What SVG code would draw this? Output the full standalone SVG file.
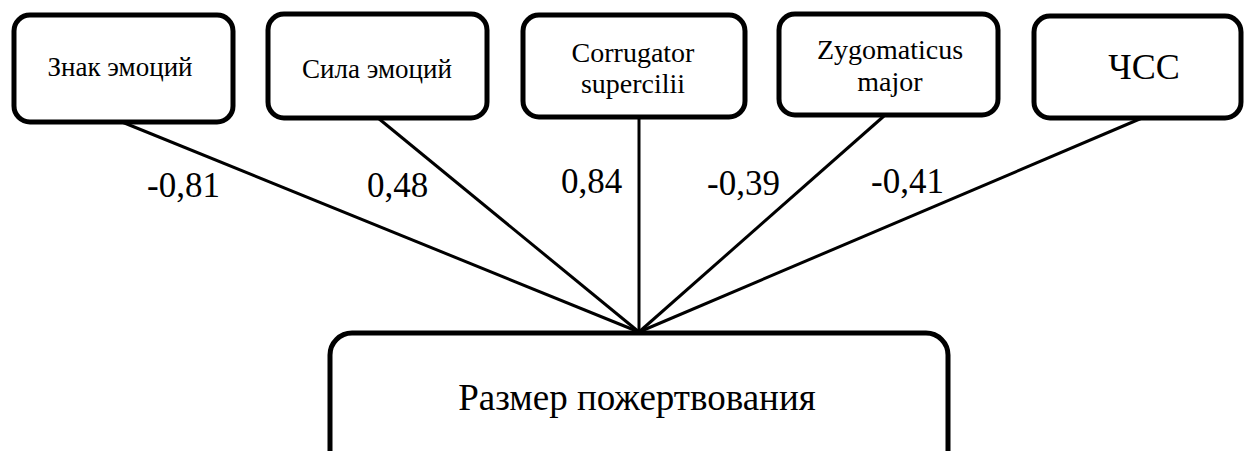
<svg xmlns="http://www.w3.org/2000/svg" width="1244" height="451" viewBox="0 0 1244 451">
<style>
.box{fill:#fff;stroke:#000;stroke-width:5}
.c{stroke:#000;stroke-width:3;fill:none}
.t{font-family:"Liberation Serif","Times New Roman",serif;fill:#000;text-anchor:middle}
.lbl{font-family:"Liberation Serif","Times New Roman",serif;fill:#000;font-size:35px}
</style>
<rect width="1244" height="451" fill="#fff"/>
<g id="connectors">
<line class="c" x1="122" y1="122" x2="639" y2="332"/>
<line class="c" x1="378" y1="118" x2="639" y2="332"/>
<line class="c" x1="639" y1="117" x2="639" y2="332"/>
<line class="c" x1="884" y1="116" x2="639" y2="332"/>
<line class="c" x1="1142" y1="118" x2="639" y2="332"/>
</g>
<g id="labels">
<text class="lbl" x="147" y="197">-0,81</text>
<text class="lbl" x="367" y="197">0,48</text>
<text class="lbl" x="561" y="193">0,84</text>
<text class="lbl" x="707" y="195">-0,39</text>
<text class="lbl" x="871" y="193">-0,41</text>
</g>
<g id="n1"><rect class="box" x="14" y="15" width="219" height="107" rx="16"/><text class="t" font-size="27" x="120" y="76">Знак эмоций</text></g>
<g id="n2"><rect class="box" x="268" y="14" width="219" height="104" rx="16"/><text class="t" font-size="27" x="377" y="78">Сила эмоций</text></g>
<g id="n3"><rect class="box" x="523" y="15" width="222" height="102" rx="16"/><text class="t" font-size="28" x="633" y="62">Corrugator</text><text class="t" font-size="28" x="633" y="93">supercilii</text></g>
<g id="n4"><rect class="box" x="779" y="14" width="219" height="101" rx="16"/><text class="t" font-size="28" x="890" y="59">Zygomaticus</text><text class="t" font-size="28" x="890" y="91">major</text></g>
<g id="n5"><rect class="box" x="1034" y="16" width="207" height="102" rx="16"/><text class="t" font-size="36" x="1144" y="79">ЧСС</text></g>
<g id="n6"><rect class="box" x="330" y="333" width="618" height="140" rx="22"/><text class="t" font-size="37" x="637" y="410">Размер пожертвования</text></g>
</svg>
